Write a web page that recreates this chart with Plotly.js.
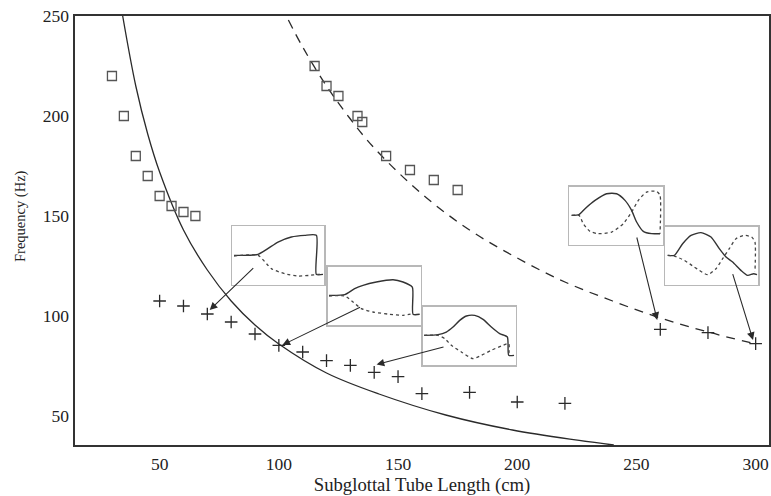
<!DOCTYPE html>
<html>
<head>
<meta charset="utf-8">
<script src="https://cdn.plot.ly/plotly-3.0.1.min.js"></script>
<style>html,body{margin:0;padding:0;background:#fff;}#chart{width:771px;height:496px;}</style>
</head>
<body>
<div id="chart"></div>
<script>
// ---- main data ----
const sqX = [30, 35, 40, 45, 50, 55, 60, 65, 115, 120, 125, 133, 135, 145, 155, 165, 175];
const sqY = [220, 200, 180, 170, 160, 155, 152, 150, 225, 215, 210, 200, 197, 180, 173, 168, 163];
const crossX = [50, 60, 70, 80, 90, 100, 110, 120, 130, 140, 150, 160, 180, 200, 220, 260, 280, 300];
const crossY = [107.5, 105, 101, 97, 91, 85.3, 82, 77.7, 75.3, 71.8, 69.7, 61.2, 61.8, 57, 56.3, 93.3, 91.7, 86.2];
const solidX = [34.5, 40, 45, 50, 60, 70, 80, 90, 100, 120, 142, 170, 198, 226, 240.5];
const solidY = [250, 215, 191, 172, 143, 123, 107.5, 95.5, 86, 71.5, 61, 50.5, 43, 37.8, 35.5];
const dashX = [104, 110, 120, 130, 140, 160, 180, 200, 220, 240, 260, 280, 300];
const dashY = [248, 234.5, 215, 198.5, 184, 161, 143, 129, 117, 107.5, 99, 92, 86];
const xTicks = [50, 100, 150, 200, 250, 300];
const yTicks = [50, 100, 150, 200, 250];

// ---- inset waveforms (relative coordinates inside each inset) ----
const in1SolidU = [0.022, 0.283, 0.5, 0.645, 0.79, 0.917, 0.917, 0.989];
const in1SolidV = [0.5, 0.517, 0.727, 0.813, 0.841, 0.841, 0.176, 0.176];
const in1DotU = [0.022, 0.283, 0.428, 0.572, 0.717, 0.844, 0.935, 0.989];
const in1DotV = [0.489, 0.5, 0.273, 0.188, 0.148, 0.159, 0.176, 0.176];

const in2SolidU = [0.014, 0.183, 0.29, 0.38, 0.523, 0.703, 0.81, 0.91, 0.918, 0.989];
const in2SolidV = [0.511, 0.523, 0.625, 0.682, 0.739, 0.778, 0.739, 0.653, 0.188, 0.188];
const in2DotU = [0.014, 0.183, 0.272, 0.362, 0.487, 0.667, 0.81, 0.918];
const in2DotV = [0.5, 0.5, 0.398, 0.284, 0.227, 0.188, 0.17, 0.199];

const in3SolidU = [0.014, 0.165, 0.254, 0.326, 0.398, 0.47, 0.559, 0.649, 0.738, 0.828, 0.91, 0.925, 0.982];
const in3SolidV = [0.511, 0.523, 0.568, 0.653, 0.767, 0.841, 0.852, 0.784, 0.653, 0.54, 0.483, 0.17, 0.17];
const in3DotU = [0.014, 0.165, 0.237, 0.308, 0.416, 0.541, 0.631, 0.738, 0.846, 0.925, 0.925];
const in3DotV = [0.511, 0.511, 0.455, 0.341, 0.227, 0.114, 0.17, 0.256, 0.33, 0.369, 0.17];

const in4SolidU = [0.028, 0.106, 0.17, 0.276, 0.399, 0.505, 0.594, 0.664, 0.717, 0.788, 0.876, 0.965];
const in4SolidV = [0.506, 0.517, 0.621, 0.764, 0.879, 0.879, 0.764, 0.592, 0.391, 0.23, 0.19, 0.19];
const in4DotU = [0.028, 0.106, 0.152, 0.223, 0.311, 0.452, 0.576, 0.664, 0.735, 0.823, 0.929, 0.965, 0.965];
const in4DotV = [0.506, 0.506, 0.362, 0.23, 0.19, 0.218, 0.362, 0.563, 0.764, 0.908, 0.92, 0.851, 0.19];

const in5SolidU = [0.029, 0.1, 0.189, 0.279, 0.386, 0.493, 0.582, 0.654, 0.725, 0.814, 0.886, 0.95, 0.986];
const in5SolidV = [0.506, 0.506, 0.707, 0.851, 0.897, 0.822, 0.621, 0.477, 0.391, 0.247, 0.161, 0.19, 0.172];
const in5DotU = [0.029, 0.1, 0.207, 0.314, 0.457, 0.546, 0.618, 0.689, 0.761, 0.85, 0.929, 0.964, 0.964];
const in5DotV = [0.506, 0.494, 0.42, 0.305, 0.172, 0.276, 0.448, 0.621, 0.793, 0.851, 0.822, 0.736, 0.218];

// arrows: tail (from) -> head (to), in data units
const arrowFromX = [89.9, 134.7, 169.7, 250, 290.2];
const arrowFromY = [124.7, 104.7, 84.7, 140, 121.7];
const arrowToX = [71, 101.5, 141, 258.7, 298.9];
const arrowToY = [103, 85.5, 75.7, 98, 88];

// ---- layout geometry ----
const W = 771, H = 496;
const M = {l: 75, r: 2, t: 16, b: 51};
const pw = W - M.l - M.r, ph = H - M.t - M.b;
// inset boxes in pixels [left, top, right, bottom]
const insetBoxes = [
  [232, 226, 324, 284.7],
  [327.7, 266.7, 420.7, 325.3],
  [422.7, 306.7, 515.7, 365.3],
  [569, 186.7, 663.3, 244.7],
  [665, 226.7, 758.3, 284.7]
];

const ink = '#2a2a2a';
const traces = [
  {x: solidX, y: solidY, mode: 'lines', line: {color: ink, width: 1.3, shape: 'spline', smoothing: 1}, hoverinfo: 'skip', showlegend: false},
  {x: dashX, y: dashY, mode: 'lines', line: {color: ink, width: 1.3, dash: '9px,7px', shape: 'spline', smoothing: 1}, hoverinfo: 'skip', showlegend: false},
  {x: sqX, y: sqY, mode: 'markers', marker: {symbol: 'square-open', size: 9, color: '#555', line: {width: 1.3, color: '#555'}}, showlegend: false},
  {x: crossX, y: crossY, mode: 'markers', marker: {symbol: 'cross-thin-open', size: 9, color: ink, line: {width: 1.3, color: ink}}, showlegend: false}
];

const insets = [
  [in1SolidU, in1SolidV, in1DotU, in1DotV],
  [in2SolidU, in2SolidV, in2DotU, in2DotV],
  [in3SolidU, in3SolidV, in3DotU, in3DotV],
  [in4SolidU, in4SolidV, in4DotU, in4DotV],
  [in5SolidU, in5SolidV, in5DotU, in5DotV]
];

const annotations = arrowFromX.map((fx, i) => ({
  xref: 'x', yref: 'y', axref: 'x', ayref: 'y',
  x: arrowToX[i], y: arrowToY[i], ax: fx, ay: arrowFromY[i],
  text: '', showarrow: true, arrowhead: 2, arrowsize: 1.4, arrowwidth: 1.1, arrowcolor: ink
}));
annotations.push({
  xref: 'paper', yref: 'paper', x: -0.0793, y: (M.t + ph - 216) / ph,
  xanchor: 'center', yanchor: 'middle', textangle: -90, showarrow: false,
  text: 'Frequency (Hz)', font: {size: 14.5, color: '#222'}
});

const layout = {
  width: W, height: H,
  margin: M,
  paper_bgcolor: '#fff', plot_bgcolor: 'rgba(0,0,0,0)',
  font: {family: '"Liberation Serif", "Times New Roman", serif', color: '#222', size: 17},
  showlegend: false,
  xaxis: {
    range: [14.5, 305.6], tickvals: xTicks, ticks: '', showgrid: false, zeroline: false,
    showline: true, mirror: true, linecolor: '#333', linewidth: 1.6,
    tickfont: {size: 17.5}, ticklabelstandoff: 2,
    title: {text: 'Subglottal Tube Length (cm)', font: {size: 18.7}, standoff: 5}
  },
  yaxis: {
    range: [35.5, 250], tickvals: yTicks, ticks: '', showgrid: false, zeroline: false,
    showline: true, mirror: true, linecolor: '#333', linewidth: 1.6,
    tickfont: {size: 17.5}, ticklabelstandoff: 1
  },
  annotations: annotations
};

insets.forEach((d, i) => {
  const n = i + 2;
  const b = insetBoxes[i];
  const xd = [(b[0] - M.l) / pw, (b[2] - M.l) / pw];
  const yd = [(M.t + ph - b[3]) / ph, (M.t + ph - b[1]) / ph];
  const ax = {range: [0, 1], showticklabels: false, ticks: '', showgrid: false, zeroline: false,
    showline: true, mirror: true, linecolor: '#b8b8b8', linewidth: 1.5, fixedrange: true};
  layout['xaxis' + n] = Object.assign({}, ax, {domain: xd, anchor: 'y' + n});
  layout['yaxis' + n] = Object.assign({}, ax, {domain: yd, anchor: 'x' + n});
  traces.push({x: d[0], y: d[1], xaxis: 'x' + n, yaxis: 'y' + n, mode: 'lines',
    line: {color: '#333', width: 1.4, shape: 'spline', smoothing: 0.6}, hoverinfo: 'skip', showlegend: false});
  traces.push({x: d[2], y: d[3], xaxis: 'x' + n, yaxis: 'y' + n, mode: 'lines',
    line: {color: '#444', width: 1.3, dash: 'dot', shape: 'spline', smoothing: 0.6}, hoverinfo: 'skip', showlegend: false});
});

Plotly.newPlot('chart', traces, layout, {staticPlot: true, displayModeBar: false});
</script>
</body>
</html>
